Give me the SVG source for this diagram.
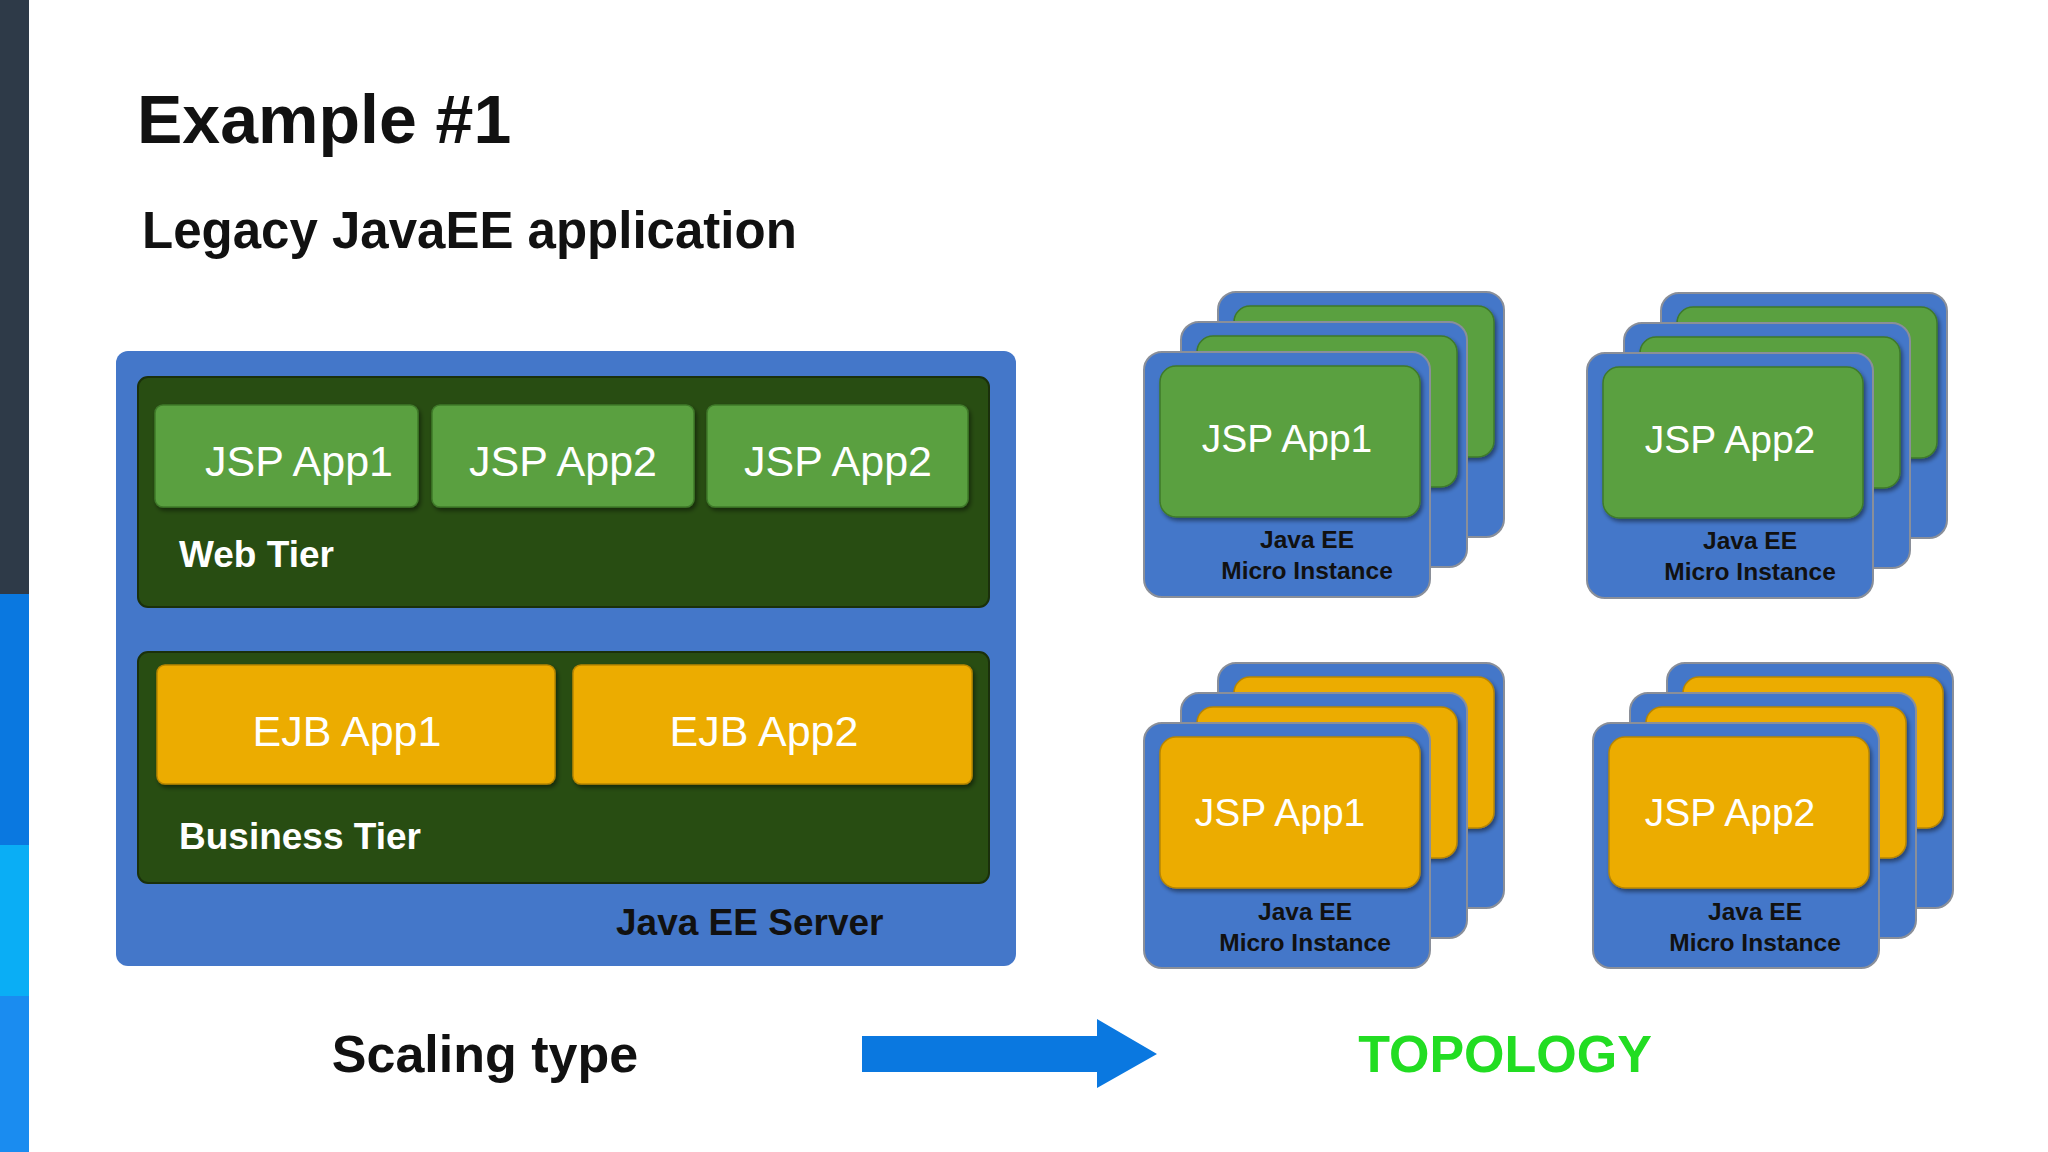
<svg xmlns="http://www.w3.org/2000/svg" xmlns:xlink="http://www.w3.org/1999/xlink" width="2048" height="1152" viewBox="0 0 2048 1152">
<style>
.b{fill:#4477c9;stroke:#8a8f99;stroke-width:2}
.g{fill:#5aa040;stroke:#3f7a2a;stroke-width:1.5}
.y{fill:#ecac00;stroke:#b88600;stroke-width:1.5}
.t{font-family:"Liberation Sans",Arial,sans-serif}
.w{fill:#fff;font-size:43px;text-anchor:middle}
.c{font-size:39px}
.k{fill:#111;font-weight:bold;font-size:24.5px;text-anchor:middle}
</style>
<defs>
<filter id="sh" x="-10%" y="-10%" width="125%" height="130%"><feDropShadow dx="2" dy="3" stdDeviation="2" flood-color="#000" flood-opacity="0.45"/></filter>
<g id="cardG"><rect class="b" x="0" y="0" width="286" height="245" rx="18"/><rect class="g" x="16" y="14" width="260" height="151" rx="16" filter="url(#sh)"/></g>
<g id="cardY"><rect class="b" x="0" y="0" width="286" height="245" rx="18"/><rect class="y" x="16" y="14" width="260" height="151" rx="16" filter="url(#sh)"/></g>
</defs>
<rect width="2048" height="1152" fill="#fff"/>
<rect x="0" y="0" width="29" height="594" fill="#2e3a48"/>
<rect x="0" y="594" width="29" height="251" fill="#0a78e0"/>
<rect x="0" y="845" width="29" height="151" fill="#0aaef5"/>
<rect x="0" y="996" width="29" height="156" fill="#1a8cf0"/>
<text class="t" x="137" y="143" font-size="68" font-weight="bold" fill="#111">Example #1</text>
<text class="t" x="142" y="248" font-size="51" font-weight="bold" fill="#111">Legacy JavaEE application</text>
<g id="server">
<rect x="116" y="351" width="900" height="615" rx="12" fill="#4477c9"/>
<text class="t" x="616" y="935" font-size="37" font-weight="bold" fill="#111">Java EE Server</text>
</g>
<g id="webtier">
<rect x="138" y="377" width="851" height="230" rx="10" fill="#284d12" stroke="#1a300b" stroke-width="2"/>
<text class="t" x="179" y="567" font-size="37" font-weight="bold" fill="#fff">Web Tier</text>
</g>
<g id="jsp1"><rect class="g" x="155" y="405" width="263" height="102" rx="8" filter="url(#sh)"/><text class="t w" x="299" y="476">JSP App1</text></g>
<g id="jsp2"><rect class="g" x="432" y="405" width="262" height="102" rx="8" filter="url(#sh)"/><text class="t w" x="563" y="476">JSP App2</text></g>
<g id="jsp3"><rect class="g" x="707" y="405" width="261" height="102" rx="8" filter="url(#sh)"/><text class="t w" x="838" y="476">JSP App2</text></g>
<g id="bustier">
<rect x="138" y="652" width="851" height="231" rx="10" fill="#284d12" stroke="#1a300b" stroke-width="2"/>
<text class="t" x="179" y="849" font-size="37" font-weight="bold" fill="#fff">Business Tier</text>
</g>
<g id="ejb1"><rect class="y" x="157" y="665" width="398" height="119" rx="8" filter="url(#sh)"/><text class="t w" x="347" y="746">EJB App1</text></g>
<g id="ejb2"><rect class="y" x="573" y="665" width="399" height="119" rx="8" filter="url(#sh)"/><text class="t w" x="764" y="746">EJB App2</text></g>
<g id="inst1">
<use xlink:href="#cardG" x="1218" y="292"/><use xlink:href="#cardG" x="1181" y="322"/><use xlink:href="#cardG" x="1144" y="352"/>
<text class="t w c" x="1287" y="452">JSP App1</text>
<text class="t k" x="1307" y="548">Java EE</text><text class="t k" x="1307" y="579">Micro Instance</text>
</g>
<g id="inst2">
<use xlink:href="#cardG" x="1661" y="293"/><use xlink:href="#cardG" x="1624" y="323"/><use xlink:href="#cardG" x="1587" y="353"/>
<text class="t w c" x="1730" y="453">JSP App2</text>
<text class="t k" x="1750" y="549">Java EE</text><text class="t k" x="1750" y="580">Micro Instance</text>
</g>
<g id="inst3">
<use xlink:href="#cardY" x="1218" y="663"/><use xlink:href="#cardY" x="1181" y="693"/><use xlink:href="#cardY" x="1144" y="723"/>
<text class="t w c" x="1280" y="826">JSP App1</text>
<text class="t k" x="1305" y="920">Java EE</text><text class="t k" x="1305" y="951">Micro Instance</text>
</g>
<g id="inst4">
<use xlink:href="#cardY" x="1667" y="663"/><use xlink:href="#cardY" x="1630" y="693"/><use xlink:href="#cardY" x="1593" y="723"/>
<text class="t w c" x="1730" y="826">JSP App2</text>
<text class="t k" x="1755" y="920">Java EE</text><text class="t k" x="1755" y="951">Micro Instance</text>
</g>
<text class="t" x="485" y="1072" font-size="52" font-weight="bold" fill="#111" text-anchor="middle">Scaling type</text>
<g id="connectors">
<polygon points="862,1036 1097,1036 1097,1019 1157,1054 1097,1088 1097,1072 862,1072" fill="#0a78e0"/>
</g>
<text class="t" x="1505" y="1072" font-size="52" font-weight="bold" fill="#22dd22" text-anchor="middle">TOPOLOGY</text>
</svg>
